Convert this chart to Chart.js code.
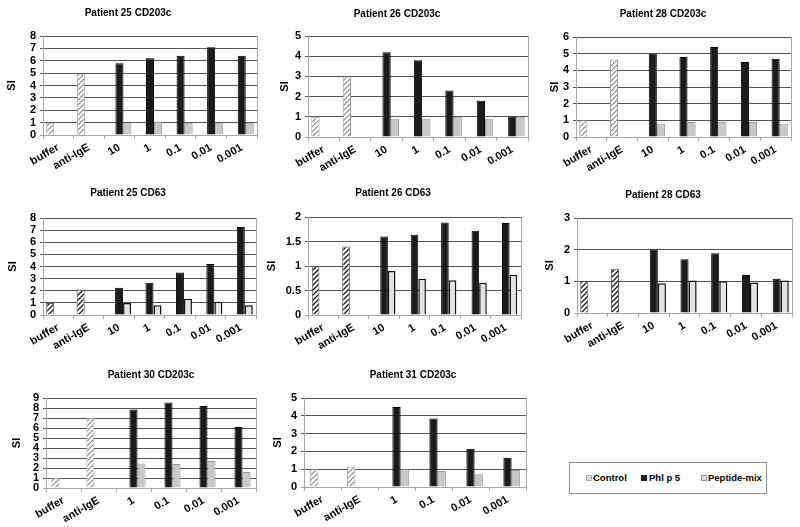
<!DOCTYPE html>
<html><head><meta charset="utf-8">
<script src="https://cdn.jsdelivr.net/npm/chart.js@4.4.1/dist/chart.umd.min.js"></script>
<style>
html,body{margin:0;padding:0;background:#fff;width:800px;height:527px;overflow:hidden;position:relative;}
canvas.p{position:absolute;}
#legend{position:absolute;left:569px;top:462px;width:198px;height:32px;border:1px solid #8c8c8c;box-sizing:border-box;}
.lt{position:absolute;font:bold 9.5px "Liberation Sans",Arial,sans-serif;color:#000;line-height:12px;top:9px;white-space:nowrap;}
.sw{position:absolute;top:12px;width:6px;height:6px;box-sizing:border-box;}
</style></head>
<body>
<div id="legend">
  <div class="sw" style="left:16px;border:1px solid #aaa;background:repeating-linear-gradient(135deg,#fff 0 1px,#999 1px 2px);"></div>
  <div class="lt" style="left:23px;">Control</div>
  <div class="sw" style="left:71px;background:#1b1b1b;"></div>
  <div class="lt" style="left:79px;">Phl p 5</div>
  <div class="sw" style="left:131px;background:#e0e0e0;border:1px solid #999;"></div>
  <div class="lt" style="left:138px;">Peptide-mix</div>
</div>
<script>
// ---------------- DATA ----------------
const catsA = ['buffer','anti-IgE','10','1','0.1','0.01','0.001'];
const catsB = ['buffer','anti-IgE','1','0.1','0.01','0.001'];
const seriesNames = ['Control','Phl p 5','Peptide-mix'];

const titles = ['Patient 25 CD203c','Patient 26 CD203c','Patient 28 CD203c',
                'Patient 25 CD63','Patient 26 CD63','Patient 28 CD63',
                'Patient 30 CD203c','Patient 31 CD203c'];
const yMax  = [8, 5, 6, 8, 2, 3, 9, 5];
const yStep = [1, 1, 1, 1, 0.5, 1, 1, 1];

const p25_203_control = [1.0, 4.95, null, null, null, null, null];
const p25_203_phl     = [null, null, 5.8, 6.2, 6.4, 7.1, 6.4];
const p25_203_pep     = [null, null, 0.95, 1.1, 1.0, 1.0, 1.0];

const p26_203_control = [1.0, 3.0, null, null, null, null, null];
const p26_203_phl     = [null, null, 4.2, 3.8, 2.3, 1.8, 1.0];
const p26_203_pep     = [null, null, 0.9, 0.9, 1.0, 0.9, 1.0];

const p28_203_control = [1.0, 4.65, null, null, null, null, null];
const p28_203_phl     = [null, null, 5.0, 4.8, 5.4, 4.5, 4.7];
const p28_203_pep     = [null, null, 0.8, 0.9, 0.9, 0.9, 0.8];

const p25_63_control = [1.0, 2.1, null, null, null, null, null];
const p25_63_phl     = [null, null, 2.25, 2.65, 3.5, 4.2, 7.25];
const p25_63_pep     = [null, null, 1.0, 0.8, 1.35, 1.1, 0.8];

const p26_63_control = [1.0, 1.4, null, null, null, null, null];
const p26_63_phl     = [null, null, 1.6, 1.64, 1.89, 1.72, 1.88];
const p26_63_pep     = [null, null, 0.9, 0.74, 0.71, 0.66, 0.82];

const p28_63_control = [1.0, 1.4, null, null, null, null, null];
const p28_63_phl     = [null, null, 2.0, 1.7, 1.89, 1.2, 1.08];
const p28_63_pep     = [null, null, 0.94, 1.03, 1.0, 0.96, 1.03];

const p30_203_control = [1.0, 7.0, null, null, null, null];
const p30_203_phl     = [null, null, 7.85, 8.55, 8.2, 6.1];
const p30_203_pep     = [null, null, 2.45, 2.4, 2.7, 1.6];

const p31_203_control = [1.0, 1.15, null, null, null, null];
const p31_203_phl     = [null, null, 4.5, 3.85, 2.15, 1.65];
const p31_203_pep     = [null, null, 1.0, 0.9, 0.72, 0.95];

// ---------------- STYLE ----------------
Chart.defaults.font.family = '"Liberation Sans", Arial, sans-serif';

function hatch(fg, bg, lw) {
  const c = document.createElement('canvas'); c.width = 5; c.height = 5;
  const x = c.getContext('2d');
  x.fillStyle = bg; x.fillRect(0, 0, 5, 5);
  x.strokeStyle = fg; x.lineWidth = lw;
  x.beginPath();
  x.moveTo(0, 5); x.lineTo(5, 0);
  x.moveTo(-1, 1); x.lineTo(1, -1);
  x.moveTo(4, 6); x.lineTo(6, 4);
  x.stroke();
  return x.createPattern(c, 'repeat');
}
const style203 = {
  control: {bg: hatch('#8a8a8a', '#fff', 1.2), border: '#a0a0a0', bw: 1},
  phl: {bg: '#1b1b1b', border: '#000', bw: 1},
  pep: {bg: '#c8c8c8', border: '#9a9a9a', bw: 1}
};
const style63 = {
  control: {bg: hatch('#1a1a1a', '#fff', 1.3), border: '#555', bw: 1},
  phl: {bg: '#1b1b1b', border: '#000', bw: 1},
  pep: {bg: '#e3e3e3', border: '#111', bw: 1.5}
};

const titlePlugin = {
  id: 'panelTitle',
  afterDraw(chart, args, opts) {
    const ctx = chart.ctx; ctx.save();
    ctx.font = 'bold 10px "Liberation Sans", Arial, sans-serif';
    ctx.fillStyle = '#000'; ctx.textAlign = 'center'; ctx.textBaseline = 'middle';
    ctx.fillText(opts.text, opts.x, opts.y);
    ctx.restore();
  }
};
const framePlugin = {
  id: 'frame',
  beforeDraw(chart) {
    const a = chart.chartArea, ctx = chart.ctx; ctx.save();
    ctx.strokeStyle = '#a8a8a8'; ctx.lineWidth = 1;
    ctx.beginPath(); ctx.moveTo(Math.round(a.right) + 0.5, a.top); ctx.lineTo(Math.round(a.right) + 0.5, a.bottom); ctx.stroke();
    ctx.restore();
  }
};

const panels = [
  {i:0, cats:catsA, c:p25_203_control, p:p25_203_phl, m:p25_203_pep, st:style203, l:43,  r:257, t:36,  b:135, tx:128, ty:13,  si:31, cp:0.79},
  {i:1, cats:catsA, c:p26_203_control, p:p26_203_phl, m:p26_203_pep, st:style203, l:308, r:528, t:36,  b:137, tx:397, ty:14,  si:23, cp:0.79},
  {i:2, cats:catsA, c:p28_203_control, p:p28_203_phl, m:p28_203_pep, st:style203, l:576, r:791, t:37,  b:137, tx:663, ty:14,  si:21, cp:0.79},
  {i:3, cats:catsA, c:p25_63_control,  p:p25_63_phl,  m:p25_63_pep,  st:style63,  l:43,  r:256, t:218, b:315, tx:128, ty:193, si:30, cp:0.79},
  {i:4, cats:catsA, c:p26_63_control,  p:p26_63_phl,  m:p26_63_pep,  st:style63,  l:308, r:521, t:217, b:315, tx:393, ty:193, si:36, cp:0.75},
  {i:5, cats:catsA, c:p28_63_control,  p:p28_63_phl,  m:p28_63_pep,  st:style63,  l:577, r:792, t:218, b:313, tx:663, ty:195, si:27, cp:0.79},
  {i:6, cats:catsB, c:p30_203_control, p:p30_203_phl, m:p30_203_pep, st:style203, l:46,  r:256, t:398, b:488, tx:151, ty:375, si:29, cp:0.69},
  {i:7, cats:catsB, c:p31_203_control, p:p31_203_phl, m:p31_203_pep, st:style203, l:304, r:526, t:398, b:487, tx:413, ty:375, si:26, cp:0.67}
];

const YW = 44, XH = 44;
panels.forEach(s => {
  const CL = s.l - YW - 2, CR = s.r + 4, CT = s.ty - 12;
  const W = CR - CL, H = s.b + XH - CT;
  const cv = document.createElement('canvas');
  cv.className = 'p'; cv.width = W; cv.height = H;
  cv.style.left = CL + 'px'; cv.style.top = CT + 'px';
  cv.style.width = W + 'px'; cv.style.height = H + 'px';
  document.body.appendChild(cv);
  const st = s.st;
  new Chart(cv, {
    type: 'bar',
    data: {
      labels: s.cats,
      datasets: [
        {label: seriesNames[0], data: s.c, backgroundColor: st.control.bg, borderColor: st.control.border, borderWidth: st.control.bw},
        {label: seriesNames[1], data: s.p, backgroundColor: st.phl.bg, borderColor: st.phl.border, borderWidth: st.phl.bw},
        {label: seriesNames[2], data: s.m, backgroundColor: st.pep.bg, borderColor: st.pep.border, borderWidth: st.pep.bw}
      ]
    },
    options: {
      responsive: false, animation: false, devicePixelRatio: 1,
      layout: {padding: {left: 2, right: 4, top: s.t - CT, bottom: 0}},
      datasets: {bar: {categoryPercentage: s.cp, barPercentage: 1}},
      plugins: {
        legend: {display: false}, tooltip: {enabled: false}, title: {display: false},
        panelTitle: {text: titles[s.i], x: s.tx - CL, y: s.ty - CT}
      },
      scales: {
        x: {
          grid: {offset: true, drawOnChartArea: false, drawTicks: true, tickLength: 4, color: '#a8a8a8'},
          border: {color: '#a8a8a8'},
          ticks: {autoSkip: false, minRotation: 30, maxRotation: 30, padding: 2, color: '#000', font: {size: 11, weight: 'bold'}},
          afterFit(sc) { sc.height = XH; }
        },
        y: {
          min: 0, max: yMax[s.i],
          ticks: {stepSize: yStep[s.i], autoSkip: false, padding: 4, color: '#000', font: {size: 11, weight: 'bold'},
                  callback: v => String(Math.round(v * 100) / 100)},
          grid: {color: c => (c.tick && c.tick.value === 0) ? '#a8a8a8' : '#555', tickLength: 3},
          border: {color: '#a8a8a8'},
          title: {display: true, text: 'SI', color: '#000', font: {size: 11, weight: 'bold'}, padding: {top: YW - s.si - 6.6, bottom: 0}},
          afterFit(sc) { sc.width = YW; }
        }
      }
    },
    plugins: [titlePlugin, framePlugin]
  });
});
</script>
</body></html>
